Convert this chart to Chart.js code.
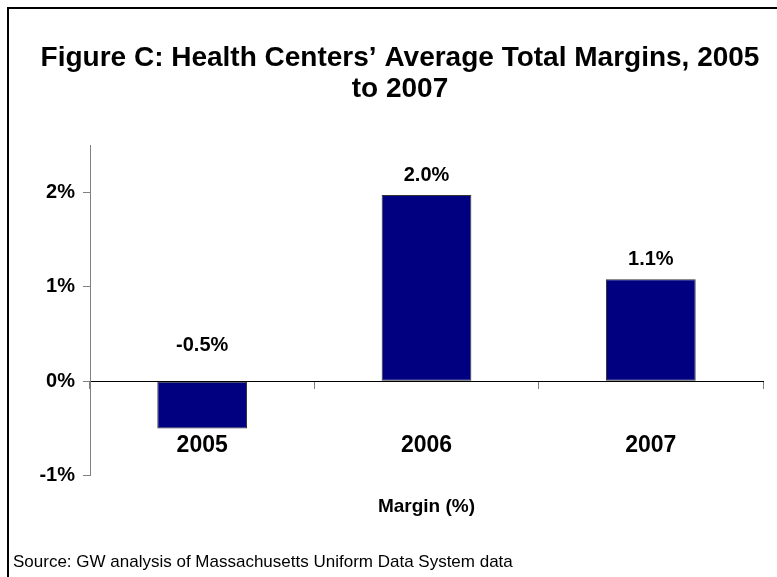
<!DOCTYPE html>
<html>
<head>
<meta charset="utf-8">
<script src="https://cdn.jsdelivr.net/npm/chart.js@4.4.1/dist/chart.umd.min.js"></script>
<style>
  html, body { margin: 0; padding: 0; background: #fff; overflow: hidden; }
  #wrap { position: relative; width: 777px; height: 577px; }
  #frame { position: absolute; left: 7px; top: 7px; width: 800px; height: 600px; border: 2px solid #000; box-sizing: border-box; }
  canvas { position: absolute; left: 0; top: 0; }
</style>
</head>
<body>
<div id="wrap">
  <div id="frame"></div>
  <canvas id="c" width="777" height="577"></canvas>
</div>
<script>
const categories = ['2005', '2006', '2007'];
const marginValues = [-0.5, 1.97, 1.08];
const yTickValues = [-1, 0, 1, 2];
const titleLines = ['Figure C: Health Centers\u2019 Average Total Margins, 2005', 'to 2007'];
const axisTitle = 'Margin (%)';
const sourceText = 'Source: GW analysis of Massachusetts Uniform Data System data';

const FONT = "'Liberation Sans', Arial, Helvetica, sans-serif";

const dataLabels = {
  id: 'dataLabels',
  afterDatasetsDraw(chart) {
    const ctx = chart.ctx;
    const meta = chart.getDatasetMeta(0);
    const yScale = chart.scales.y;
    ctx.save();
    ctx.font = 'bold 20px ' + FONT;
    ctx.fillStyle = '#000';
    ctx.textAlign = 'center';
    ctx.textBaseline = 'middle';
    meta.data.forEach((el, i) => {
      const v = marginValues[i];
      const zero = yScale.getPixelForValue(0);
      const y = v >= 0 ? el.y - 20 : zero - 36;
      ctx.fillText(v.toFixed(1) + '%', el.x, y);
    });
    ctx.restore();
  }
};

new Chart(document.getElementById('c'), {
  type: 'bar',
  data: {
    labels: categories,
    datasets: [{
      data: marginValues,
      backgroundColor: '#000080',
      borderColor: '#333333',
      borderWidth: 1,
      borderSkipped: false,
      barPercentage: 0.4,
      categoryPercentage: 1.0
    }]
  },
  options: {
    responsive: false,
    animation: false,
    devicePixelRatio: 1,
    layout: { padding: { left: 13, right: -10, top: 0, bottom: 0 } },
    plugins: {
      legend: { display: false },
      tooltip: { enabled: false },
      title: {
        display: true,
        text: titleLines,
        color: '#000',
        font: { family: FONT, size: 28, weight: 'bold', lineHeight: 1.1 },
        padding: { top: 42.6, bottom: 40.8 }
      },
      subtitle: {
        display: true,
        position: 'bottom',
        align: 'start',
        text: sourceText,
        color: '#000',
        font: { family: FONT, size: 17, weight: 'normal', lineHeight: 1.2 },
        padding: { top: 76.1, bottom: 4.8 }
      }
    },
    scales: {
      x: {
        position: { y: 0 },
        grid: { drawOnChartArea: false, drawTicks: true, tickLength: 7, color: '#808080', offset: true },
        border: { display: true, color: '#000', width: 1 },
        ticks: { color: '#000', font: { family: FONT, size: 23, weight: 'bold', lineHeight: 1.2 }, padding: 43.2, maxRotation: 0 },
        title: { display: true, text: axisTitle, color: '#000', font: { family: FONT, size: 19, weight: 'bold', lineHeight: 1.2 }, padding: { top: -7, bottom: 0 } }
      },
      y: {
        min: -1,
        max: 2.5,
        afterBuildTicks(s) { s.ticks = yTickValues.map(v => ({ value: v })); },
        afterFit(s) { s.width = 77; },
        grid: { drawOnChartArea: false, drawTicks: true, tickLength: 7, color: '#808080' },
        border: { display: true, color: '#808080', width: 1 },
        ticks: { color: '#000', padding: 8, font: { family: FONT, size: 20, weight: 'bold' }, callback: v => v + '%' }
      },
      yR: {
        type: 'linear',
        position: 'right',
        display: true,
        grid: { display: false, drawTicks: false },
        border: { display: false },
        ticks: { display: false },
        afterFit(s) { s.width = 24; }
      }
    }
  },
  plugins: [dataLabels]
});
</script>
</body>
</html>
